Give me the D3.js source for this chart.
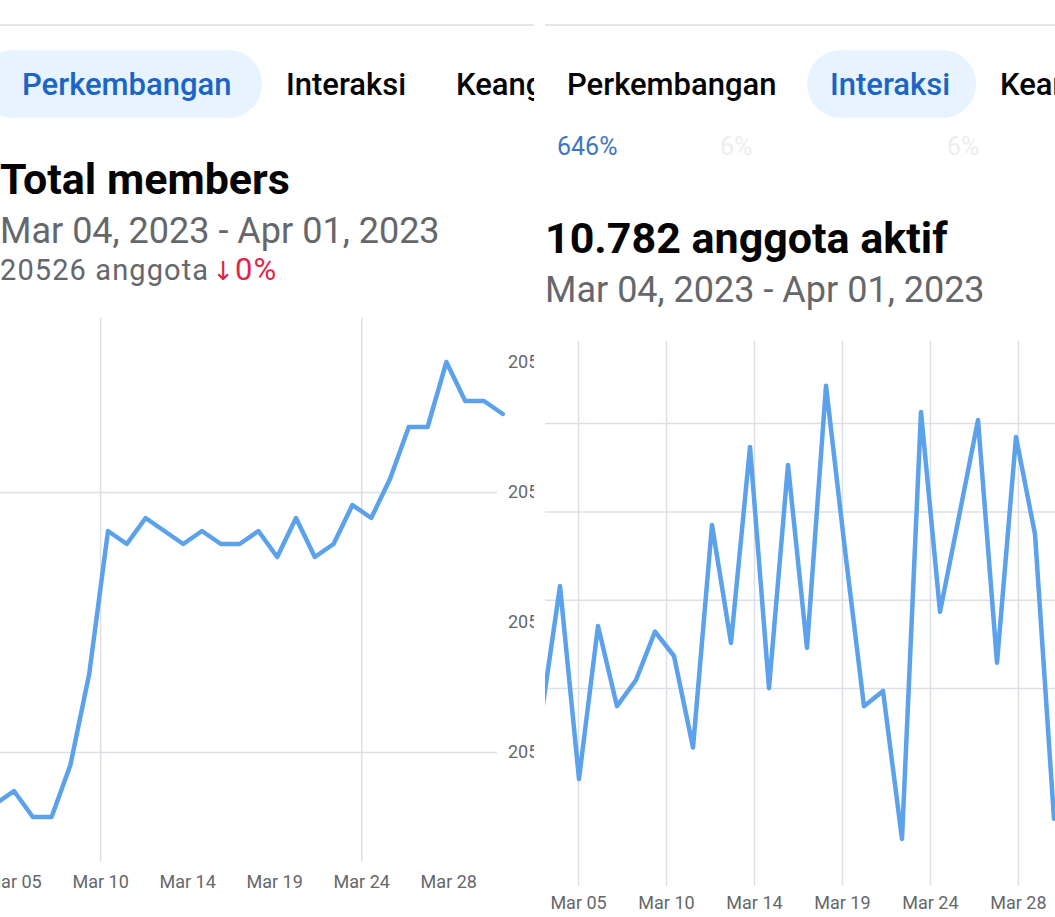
<!DOCTYPE html>
<html>
<head>
<meta charset="utf-8">
<script src="https://cdn.jsdelivr.net/npm/d3@7"></script>
<style>
  body { margin: 0; background: #fff; }
  svg { display: block; font-family: Roboto, "Noto Sans", sans-serif; }
</style>
</head>
<body>
<div id="chart"></div>
<script>
// days shown in both panels (Mar 04 .. Apr 01)
var days = ["Mar 04", "Mar 05", "Mar 06", "Mar 07", "Mar 08", "Mar 09", "Mar 10", "Mar 11",
            "Mar 12", "Mar 13", "Mar 14", "Mar 15", "Mar 16", "Mar 17", "Mar 18", "Mar 19",
            "Mar 20", "Mar 21", "Mar 22", "Mar 23", "Mar 24", "Mar 25", "Mar 26", "Mar 27",
            "Mar 28", "Mar 29", "Mar 30", "Mar 31", "Apr 01"];

// total members per day (left screen)
var totalMembers = [20496, 20496, 20497, 20495, 20495, 20499, 20506, 20517, 20516, 20518,
                    20517, 20516, 20517, 20516, 20516, 20517, 20515, 20518, 20515, 20516,
                    20519, 20518, 20521, 20525, 20525, 20530, 20527, 20527, 20526];

// active members per day (right screen), estimated scale
var activeMembers = [2416, 2790, 2244, 2677, 2450, 2524, 2661, 2592, 2333, 2963,
                     2629, 3184, 2501, 3133, 2615, 3357, 2892, 2450, 2493, 2074,
                     3283, 2717, 2987, 3260, 2573, 3212, 2937, 2131, 2180];

// x ticks sit between days on the app's chart
var tickPos = [1.95, 6.58, 11.21, 15.84, 20.47, 25.1];
var tickLabels = ["Mar 05", "Mar 10", "Mar 14", "Mar 19", "Mar 24", "Mar 28"];

var memberTicks = [20500, 20510, 20520, 20530];
var memberGrid = [20500, 20520];
var activeGrid = [2500, 2750, 3000, 3250];

var tabs = ["Perkembangan", "Interaksi", "Keanggotaan"];
var dateRange = "Mar 04, 2023 - Apr 01, 2023";

var W = 1055, H = 917;
var lineColor = "#5ca1ec";
var gridColor = "#dcdfe3";
var greyText = "#65676b";
var blueText = "#1a65c7";

var svg = d3.select("#chart").append("svg")
    .attr("width", W)
    .attr("height", H);

var defs = svg.append("defs");
defs.append("clipPath").attr("id", "clipL")
    .append("rect").attr("x", 0).attr("y", 0).attr("width", 534).attr("height", H);
defs.append("clipPath").attr("id", "clipR")
    .append("rect").attr("x", 545).attr("y", 0).attr("width", W - 545).attr("height", H);

var left = svg.append("g").attr("clip-path", "url(#clipL)");
var right = svg.append("g").attr("clip-path", "url(#clipR)");

function tabRow(g, x0, x1, tabX, active, pill) {
    g.append("line")
        .attr("x1", x0).attr("x2", x1)
        .attr("y1", 25).attr("y2", 25)
        .attr("stroke", "#e4e6eb").attr("stroke-width", 2);
    g.append("rect")
        .attr("x", pill[0]).attr("y", 50)
        .attr("width", pill[1]).attr("height", 68)
        .attr("rx", 34)
        .attr("fill", "#e7f3ff");
    tabs.forEach(function (t, i) {
        g.append("text")
            .attr("x", tabX[i]).attr("y", 95)
            .attr("font-size", 31).attr("font-weight", 500)
            .attr("fill", i == active ? blueText : "#050505")
            .text(t);
    });
}

function drawLine(g, x, y, values) {
    var line = d3.line()
        .x(function (d, i) { return x(i); })
        .y(function (d) { return y(d); });
    g.append("path")
        .datum(values)
        .attr("d", line)
        .attr("fill", "none")
        .attr("stroke", lineColor)
        .attr("stroke-width", 4.5)
        .attr("stroke-linejoin", "round")
        .attr("stroke-linecap", "round");
}

function xAxis(g, x, top, bottom, labelY, gridIdx) {
    var ax = g.append("g")
        .attr("transform", "translate(0," + bottom + ")")
        .call(d3.axisBottom(x)
            .tickValues(tickPos)
            .tickFormat(function (d, i) { return tickLabels[i]; })
            .tickSize(0));
    ax.select(".domain").remove();
    ax.selectAll("text")
        .attr("y", labelY - bottom)
        .attr("dy", 0)
        .attr("fill", greyText)
        .attr("font-size", 18)
        .attr("font-family", "Roboto, sans-serif");
    ax.selectAll(".tick").filter(function (d, i) { return gridIdx.indexOf(i) >= 0; })
        .append("line")
        .attr("y1", 0).attr("y2", top - bottom)
        .attr("stroke", gridColor).attr("stroke-width", 1.5);
}

// ---------- left screen: Total members ----------
tabRow(left, 0, 535, [22, 286, 456], 0, [-20, 282]);

left.append("text").attr("x", 0).attr("y", 194)
    .attr("font-size", 43).attr("font-weight", 700).attr("fill", "#050505")
    .text("Total members");
left.append("text").attr("x", 0).attr("y", 243)
    .attr("font-size", 36).attr("fill", greyText)
    .text(dateRange);
var sub = left.append("text").attr("x", 0).attr("y", 280)
    .attr("font-size", 29).attr("letter-spacing", 1.1).attr("fill", greyText);
sub.append("tspan").text(totalMembers[totalMembers.length - 1] + " anggota");
sub.append("tspan").attr("dx", 3).attr("fill", "#e0264a")
    .attr("font-family", "DejaVu Sans").attr("font-size", 26).text("\u2193");
sub.append("tspan").attr("fill", "#e0264a")
    .attr("font-size", 31).text("0%");

var xL = d3.scaleLinear().domain([0, days.length - 1]).range([-23.6, 502.8]);
var yL = d3.scaleLinear().domain([20500, 20530]).range([752, 362]);

var yAxL = left.append("g")
    .attr("transform", "translate(497,0)")
    .call(d3.axisRight(yL).tickValues(memberTicks).tickFormat(d3.format("d")).tickSize(0));
yAxL.select(".domain").remove();
yAxL.selectAll("text")
    .attr("x", 11)
    .attr("fill", greyText)
    .attr("font-size", 18)
    .attr("font-family", "Roboto, sans-serif");
yAxL.selectAll(".tick").filter(function (d) { return memberGrid.indexOf(d) >= 0; })
    .append("line")
    .attr("x1", -497).attr("x2", 0)
    .attr("stroke", gridColor).attr("stroke-width", 1.5);

xAxis(left, xL, 318, 862, 888, [1, 4]);
drawLine(left, xL, yL, totalMembers);

// ---------- right screen: active members ----------
tabRow(right, 545, W, [567, 830, 1000], 1, [807, 169]);

right.append("text").attr("x", 557).attr("y", 155)
    .attr("font-size", 25).attr("fill", "#4274c4").text("646%");
right.append("text").attr("x", 720).attr("y", 155)
    .attr("font-size", 25).attr("fill", "#eceef0").text("6%");
right.append("text").attr("x", 947).attr("y", 155)
    .attr("font-size", 25).attr("fill", "#eceef0").text("6%");

right.append("text").attr("x", 545).attr("y", 253)
    .attr("font-size", 43).attr("font-weight", 700).attr("fill", "#050505")
    .text("10.782 anggota aktif");
right.append("text").attr("x", 545).attr("y", 302)
    .attr("font-size", 36).attr("fill", greyText)
    .text(dateRange);

var xR = d3.scaleLinear().domain([0, days.length - 1]).range([541, 1073]);
var yR = d3.scaleLinear().domain([2500, 3250]).range([688.5, 423.6]);

right.selectAll(".hgrid")
    .data(activeGrid)
    .enter().append("line")
    .attr("class", "hgrid")
    .attr("x1", 545).attr("x2", W)
    .attr("y1", function (d) { return yR(d); })
    .attr("y2", function (d) { return yR(d); })
    .attr("stroke", gridColor).attr("stroke-width", 1.5);

xAxis(right, xR, 341, 886, 909, [0, 1, 2, 3, 4, 5]);
drawLine(right, xR, yR, activeMembers);
</script>
</body>
</html>
